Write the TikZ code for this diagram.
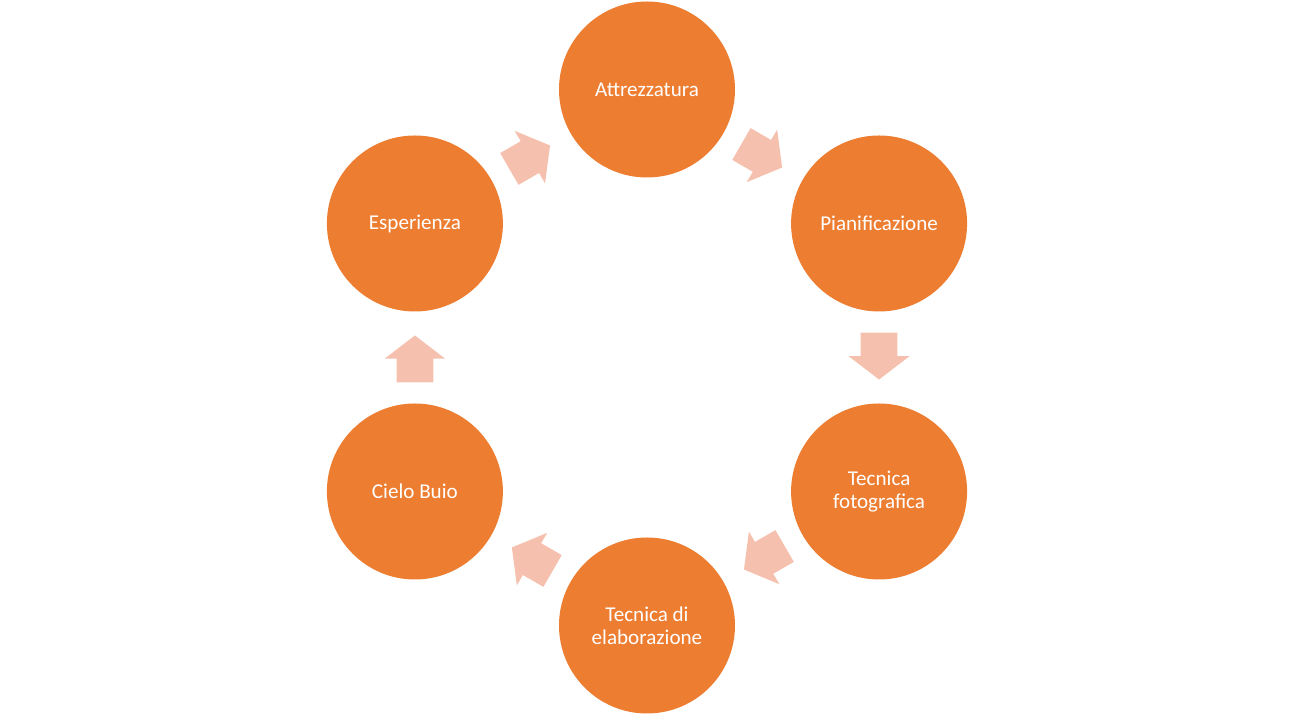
\documentclass[tikz,border=0pt]{standalone}
\usepackage{fontspec}
\setmainfont{Carlito}
\usetikzlibrary{shapes.arrows,calc}
\definecolor{arancio}{RGB}{237,125,49}
\definecolor{pesca}{RGB}{245,193,174}
\tikzset{
  fase/.style={circle,fill=arancio,text=white,minimum size=3.52cm,inner sep=0pt,
    align=center,font=\fontsize{12}{13.2}\selectfont},
  freccia/.style={single arrow,fill=pesca,minimum height=0.94cm,inner xsep=0pt,
    inner ysep=0.36cm,single arrow head extend=0.24cm,single arrow tip angle=105}
}
\begin{document}
\begin{tikzpicture}
  \useasboundingbox (-12.94,-7.15) rectangle (12.94,7.15);
  % fasi del ciclo
  \foreach \lbl [count=\i] in {Attrezzatura,Pianificazione,{Tecnica\\fotografica},
      {Tecnica di\\elaborazione},Cielo Buio,Esperienza}
    \node[fase] (f\i) at ({90-60*(\i-1)}:5.36) {\lbl};
  % frecce tra le fasi
  \foreach \i/\j in {1/2,2/3,3/4,4/5,5/6,6/1}{
    \coordinate (m\i) at ($(f\i)!0.5!(f\j)$);
    \node[freccia,rotate={-30-60*(\i-1)}] (a\i) at ($(m\i)!0.17cm!(f\i)$) {};
  }
\end{tikzpicture}
\end{document}
